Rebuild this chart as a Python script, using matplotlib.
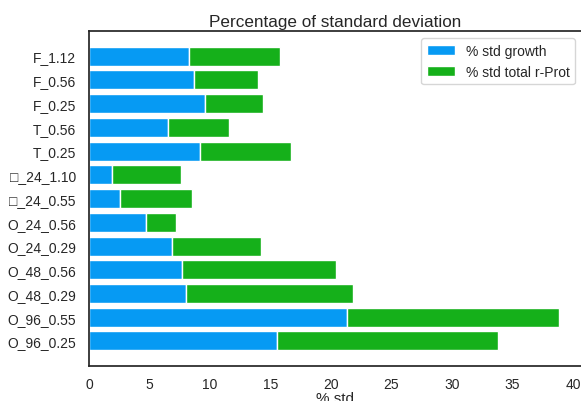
import matplotlib
matplotlib.use("Agg")
import matplotlib.pyplot as plt
import seaborn as sns
import numpy as np

sns.set_theme(style="white")
plt.rcParams["font.family"] = ["Liberation Sans", "DejaVu Sans"]

# Conditions, listed from top to bottom
conditions = ["F_1.12", "F_0.56", "F_0.25", "T_0.56", "T_0.25",
              "\u25a1_24_1.10", "\u25a1_24_0.55", "O_24_0.56", "O_24_0.29",
              "O_48_0.56", "O_48_0.29", "O_96_0.55", "O_96_0.25"]

# % standard deviation of growth
std_growth = [8.3, 8.7, 9.6, 6.5, 9.2, 1.9, 2.6, 4.7, 6.9, 7.7, 8.0, 21.3, 15.5]
# % standard deviation of total r-Prot (stacked after growth)
std_rprot = [7.5, 5.3, 4.8, 5.1, 7.5, 5.7, 5.9, 2.5, 7.3, 12.7, 13.8, 17.5, 18.3]

fig = plt.figure(figsize=(5.81, 4.02), dpi=100)
ax = fig.add_axes([89 / 581, (402 - 366.7) / 402, (582 - 89) / 581, (366.7 - 32.3) / 402])

y = np.arange(len(conditions))
ax.barh(y, std_growth, height=0.8, color="#069AF3", edgecolor="white",
        linewidth=1, label="% std growth")
ax.barh(y, std_rprot, left=std_growth, height=0.8, color="#15B01A",
        edgecolor="white", linewidth=1, label="% std total r-Prot")

ax.set_yticks(y)
ax.set_yticklabels(conditions)
ax.invert_yaxis()
ax.set_xticks(np.arange(0, 41, 5))
ax.tick_params(axis="both", labelsize=10, colors="0.15")
ax.tick_params(axis="y", pad=3.5)
ax.tick_params(axis="x", pad=2)
ax.set_xlabel("% std", fontsize=11, color="0.15", labelpad=0)
ax.set_title("Percentage of standard deviation", fontsize=12.3, color="0.15", pad=4)
ax.legend(loc="upper right", fontsize=10)

fig.savefig("out.png", dpi=100)
